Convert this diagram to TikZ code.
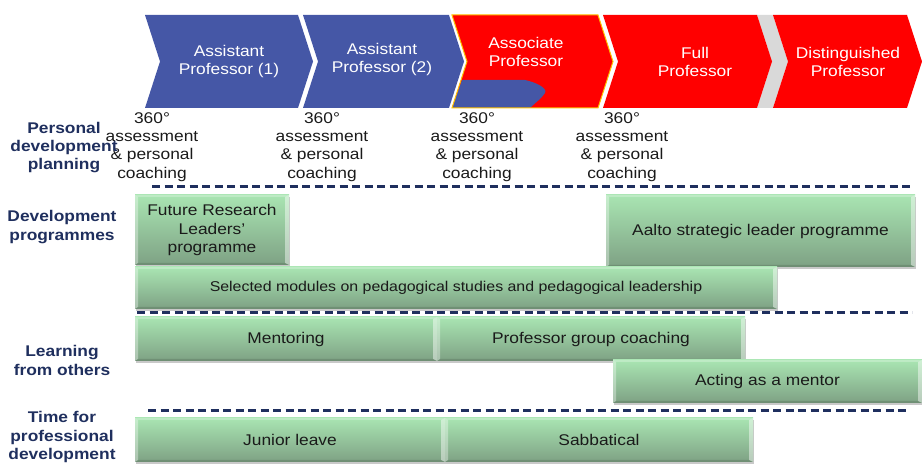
\documentclass[tikz,border=0pt]{standalone}
\usepackage{fontspec}
\setmainfont{Liberation Sans}[FakeStretch=1.12]
\usetikzlibrary{shadows}

\definecolor{chevblue}{HTML}{4557A6}
\definecolor{chevred}{HTML}{FF0000}
\definecolor{chevgrey}{HTML}{D9D9D9}
\definecolor{gold}{HTML}{FFC000}
\definecolor{navy}{HTML}{1F2F5E}
\definecolor{boxtop}{HTML}{A9E5B2}
\definecolor{boxbot}{HTML}{7EA184}
\definecolor{ink}{HTML}{1A1A1A}

% career-stage arrow: left x, right x, fill style
\newcommand\careerchev[3]{%
  \path[#3] (#1,15) -- (#2,15) -- ({#2+15},61.5) -- (#2,108) -- (#1,108) -- ({#1+15},61.5) -- cycle;}

% bevelled green bar: name, x0, y0, x1, y1, text, extra style
\newcommand\greenbar[7]{%
  \node[gbox, #7, minimum width={#4-#2}, minimum height={#5-#3}] (#1)
    at ({(#2+#4)/2},{(#3+#5)/2}) {#6};
  \fill[white,opacity=.35] (#2,#3) -- (#2,#5) -- ({#2+3},{#5-2}) -- ({#2+3},{#3+2}) -- cycle;
  \fill[white,opacity=.45] (#4,#3) -- (#4,#5) -- ({#4-4},{#5-2}) -- ({#4-4},{#3+2}) -- cycle;
  \fill[white,opacity=.25] (#2,#3) -- (#4,#3) -- ({#4-4},{#3+2}) -- ({#2+3},{#3+2}) -- cycle;
  \fill[black,opacity=.12] (#2,#5) -- (#4,#5) -- ({#4-4},{#5-2}) -- ({#2+3},{#5-2}) -- cycle;}

\tikzset{
  chevtxt/.style={text=white, align=center, inner sep=0pt,
    font=\fontsize{15.5}{18}\selectfont},
  rowlabel/.style={text=navy, align=center, inner sep=0pt,
    font=\fontsize{15.5}{18.3}\selectfont\bfseries},
  assess/.style={text=ink, align=center, inner sep=0pt,
    font=\fontsize{15.5}{18.3}\selectfont},
  gbox/.style={top color=boxtop, bottom color=boxbot, draw=none,
    inner sep=0pt, align=center, text=ink,
    font=\fontsize{15.5}{18.5}\selectfont,
    drop shadow={shadow xshift=1.2pt, shadow yshift=-1.8pt, opacity=.3, fill=black!70}},
  smalltxt/.style={font=\fontsize{14.2}{17}\selectfont},
  separator/.style={draw=navy, line width=3pt, dash pattern=on 8pt off 4.5pt}
}

\begin{document}
\begin{tikzpicture}[x=1pt, y=-1pt]
\useasboundingbox (0,0) rectangle (922,470);

% career stages
\careerchev{145}{298}{fill=chevblue}
\careerchev{303}{449}{fill=chevblue}
\path[fill=chevgrey] (757,15) -- (773,15) -- (788,61.5) -- (773,108) -- (757,108) -- (772,61.5) -- cycle;
\careerchev{603}{757}{fill=chevred}
\careerchev{773}{907}{fill=chevred}
\careerchev{452}{598}{fill=chevred}
\fill[chevblue] (462,80) -- (525,80) .. controls (535,82) and (548,88) .. (545,93)
  .. controls (542,98) and (535,103) .. (530,108) -- (452,108) -- cycle;
\careerchev{452}{598}{draw=gold, line width=1pt}

\node[chevtxt] (ap1) at (229,61.5) {Assistant\\Professor (1)};
\node[chevtxt] (ap2) at (382,59.5) {Assistant\\Professor (2)};
\node[chevtxt] (asp) at (526,52) {Associate\\Professor};
\node[chevtxt] (fp)  at (695,61.5) {Full\\Professor};
\node[chevtxt] (dp)  at (848,61.5) {Distinguished\\Professor};

% 360 assessments
\node[assess] (as1) at (152,147) {360°\\assessment\\\& personal\\coaching};
\node[assess] (as2) at (322,147) {360°\\assessment\\\& personal\\coaching};
\node[assess] (as3) at (477,147) {360°\\assessment\\\& personal\\coaching};
\node[assess] (as4) at (622,147) {360°\\assessment\\\& personal\\coaching};

% row labels
\node[rowlabel] (lpd) at (64,147.5) {Personal\\development\\planning};
\node[rowlabel] (ldp) at (62,227) {Development\\programmes};
\node[rowlabel] (llo) at (62,360.5) {Learning\\from others};
\node[rowlabel] (ltp) at (62,437) {Time for\\professional\\development};

% row separators
\draw[separator] (152,187) -- (912,187);
\draw[separator] (137,313) -- (912,313);
\draw[separator] (148,411) -- (907,411);

% development programmes
\greenbar{frl}{135}{195}{289}{265}{Future Research\\Leaders’\\programme}{}
\greenbar{asl}{606}{195}{915}{267}{Aalto strategic leader programme}{}
\greenbar{ped}{135}{267}{777}{309}{Selected modules on pedagogical studies and pedagogical leadership}{smalltxt}

% learning from others
\greenbar{men}{135}{317}{437}{361}{Mentoring}{}
\greenbar{pgc}{437}{317}{745}{361}{Professor group coaching}{}
\greenbar{aam}{613}{360}{922}{403}{Acting as a mentor}{}

% time for professional development
\greenbar{jl}{135}{418}{445}{462}{Junior leave}{}
\greenbar{sab}{445}{418}{753}{462}{Sabbatical}{}
\end{tikzpicture}
\end{document}
